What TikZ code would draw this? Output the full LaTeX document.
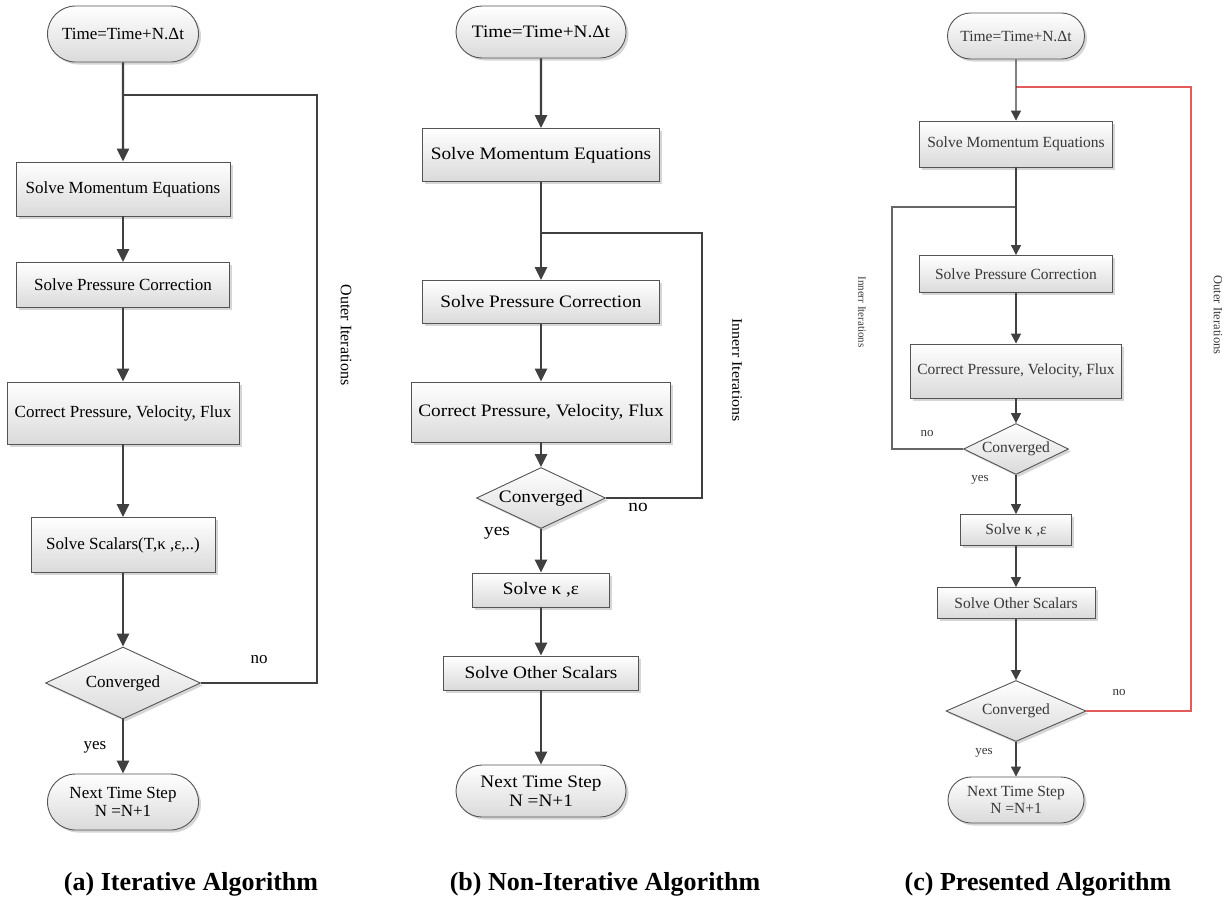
\documentclass[tikz,border=0pt]{standalone}
\usepackage{fontspec}
\setmainfont{Liberation Serif}
\newfontfamily\wideserif[FakeStretch=1.1]{Liberation Serif}
\usetikzlibrary{arrows.meta,shapes.geometric,shapes.misc,shadows}
\definecolor{lineGray}{RGB}{64,64,64}
\definecolor{boxEdge}{RGB}{84,84,84}
\definecolor{boxLow}{RGB}{218,218,218}
\definecolor{loopRed}{RGB}{226,92,92}
\colorlet{fadedInk}{black!78}

\begin{document}
\begin{tikzpicture}[
    x=1pt,y=-1pt,
    base/.style={draw=boxEdge,line width=0.9pt,top color=white,bottom color=boxLow,
      drop shadow={shadow xshift=2.5pt,shadow yshift=-2.5pt,fill=black!40,opacity=.4},
      inner sep=2pt,align=center},
    proc/.style={base,rectangle},
    term/.style={base,rounded rectangle},
    dec/.style={base,diamond,aspect=2,inner sep=1pt},
    fontA/.style={font=\fontsize{17}{18}\selectfont},
    fontB/.style={font=\wideserif\fontsize{17.5}{18.5}\selectfont},
    fontC/.style={font=\fontsize{15.5}{17}\selectfont,text=fadedInk},
    flow/.style={-{Triangle[length=13pt,width=12pt]},line width=2.4pt,draw=lineGray},
    back/.style={line width=2.2pt,draw=lineGray},
    flowC/.style={-{Triangle[length=10pt,width=10pt]},line width=1.3pt,draw=lineGray},
    backC/.style={line width=1.1pt,draw=lineGray!80},
    backRed/.style={line width=1.3pt,draw=loopRed},
    caption/.style={font=\bfseries\fontsize{26}{28}\selectfont}
  ]
  \path[use as bounding box,fill=white] (0,0) rectangle (1230,900);

  % (a) iterative
  \node[term,fontA,minimum width=155pt,minimum height=56pt] (aT) at (123,34) {Time=Time+N.Δt};
  \node[proc,fontA,minimum width=214pt,minimum height=54pt] (aM) at (123,189) {Solve Momentum Equations};
  \node[proc,fontA,minimum width=213pt,minimum height=45pt] (aP) at (123,285) {Solve Pressure Correction};
  \node[proc,fontA,minimum width=232pt,minimum height=62pt] (aC) at (123,413) {Correct Pressure, Velocity, Flux};
  \node[proc,fontA,minimum width=184pt,minimum height=55pt] (aS) at (123,545) {Solve Scalars(T,κ ,ε,..)};
  \node[dec,fontA,minimum width=155pt,minimum height=72pt] (aD) at (123,683) {Converged};
  \node[term,fontA,minimum width=155pt,minimum height=56pt] (aN) at (123,802) {Next Time Step\\N =N+1};
  \node[fontA] (aNo) at (259,660) {no};
  \node[fontA] (aYes) at (95,747) {yes};
  \node[rotate=-90,font=\fontsize{16}{18}\selectfont] (aOuter) at (346,335) {Outer Iterations};
  \coordinate (aJ) at (123,95);
  \coordinate (aR) at (317,95);
  \draw[back] (aD.east) -| (aR) -- (aJ);
  \foreach \s/\t in {aT/aM,aM/aP,aP/aC,aC/aS,aS/aD,aD/aN}
    \draw[flow] (\s) -- (\t);
  \node[caption] (capA) at (191,884) {(a) Iterative Algorithm};

  % (b) non-iterative
  \node[term,fontB,minimum width=174pt,minimum height=52pt] (bT) at (541,32) {Time=Time+N.Δt};
  \node[proc,fontB,minimum width=237pt,minimum height=53pt] (bM) at (541,155) {Solve Momentum Equations};
  \node[proc,fontB,minimum width=237pt,minimum height=43pt] (bP) at (541,302) {Solve Pressure Correction};
  \node[proc,fontB,minimum width=259pt,minimum height=60pt] (bC) at (541,412) {Correct Pressure, Velocity, Flux};
  \node[dec,fontB,minimum width=129pt,minimum height=51pt] (bD) at (541,498) {Converged};
  \node[proc,fontB,minimum width=137pt,minimum height=34pt] (bK) at (541,590) {Solve κ ,ε};
  \node[proc,fontB,minimum width=195pt,minimum height=34pt] (bO) at (541,673) {Solve Other Scalars};
  \node[term,fontB,minimum width=174pt,minimum height=52pt] (bN) at (541,791) {Next Time Step\\N =N+1};
  \node[fontB] (bNo) at (638,507) {no};
  \node[fontB] (bYes) at (497,533) {yes};
  \node[rotate=-90,font=\wideserif\fontsize{14.5}{16}\selectfont] (bInner) at (737,370) {Innerr Iterations};
  \coordinate (bJ) at (541,233);
  \coordinate (bR) at (702,233);
  \draw[back] (bD.east) -| (bR) -- (bJ);
  \foreach \s/\t in {bT/bM,bM/bP,bP/bC,bC/bD,bD/bK,bK/bO,bO/bN}
    \draw[flow] (\s) -- (\t);
  \node[caption] (capB) at (605,884) {(b) Non-Iterative Algorithm};

  % (c) presented
  \node[term,fontC,minimum width=141pt,minimum height=46pt] (cT) at (1016,36) {Time=Time+N.Δt};
  \node[proc,fontC,minimum width=193pt,minimum height=46pt] (cM) at (1016,144) {Solve Momentum Equations};
  \node[proc,fontC,minimum width=193pt,minimum height=37pt] (cP) at (1016,274) {Solve Pressure Correction};
  \node[proc,fontC,minimum width=211pt,minimum height=54pt] (cC) at (1016,371) {Correct Pressure, Velocity, Flux};
  \node[dec,fontC,minimum width=105pt,minimum height=46pt] (cD) at (1016,449) {Converged};
  \node[proc,fontC,minimum width=111pt,minimum height=31pt] (cK) at (1016,530) {Solve κ ,ε};
  \node[proc,fontC,minimum width=158pt,minimum height=31pt] (cO) at (1016,603) {Solve Other Scalars};
  \node[dec,fontC,minimum width=140pt,minimum height=61pt] (cE) at (1016,711) {Converged};
  \node[term,fontC,minimum width=140pt,minimum height=46pt] (cN) at (1016,800) {Next Time Step\\N =N+1};
  \node[fontC,font=\fontsize{13}{15}\selectfont] (cNo1) at (927,433) {no};
  \node[fontC,font=\fontsize{13}{15}\selectfont] (cYes1) at (980,480) {yes};
  \node[fontC,font=\fontsize{13}{15}\selectfont] (cNo2) at (1119,692) {no};
  \node[fontC,font=\fontsize{13}{15}\selectfont] (cYes2) at (984,753) {yes};
  \node[rotate=-90,text=fadedInk,font=\fontsize{11}{13}\selectfont] (cInner) at (862,312) {Innerr Iterations};
  \node[rotate=-90,text=fadedInk,font=\fontsize{12.5}{14}\selectfont] (cOuter) at (1218,315) {Outer Iterations};
  \coordinate (cJ) at (1016,87);
  \coordinate (cR) at (1191,87);
  \coordinate (cI) at (1016,207);
  \coordinate (cL) at (892,207);
  \draw[backRed] (cE.east) -| (cR) -- (cJ);
  \draw[backC] (cD.west) -| (cL) -- (cI);
  \foreach \s/\t in {cT/cM,cM/cP,cP/cC,cC/cD,cD/cK,cK/cO,cO/cE,cE/cN}
    \draw[flowC] (\s) -- (\t);
  \node[caption] (capC) at (1038,884) {(c) Presented Algorithm};
\end{tikzpicture}
\end{document}
